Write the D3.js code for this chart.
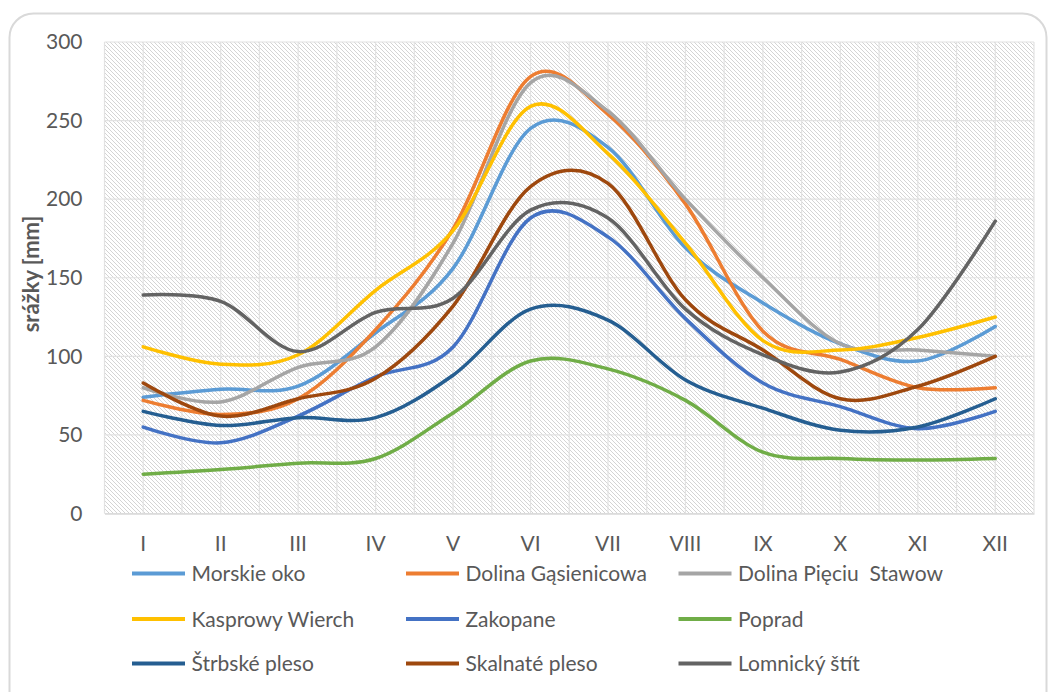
<!DOCTYPE html>
<html>
<head>
<meta charset="utf-8">
<script src="https://cdn.jsdelivr.net/npm/d3@7"></script>
<style>
  html, body { margin: 0; padding: 0; background: #ffffff; }
  svg { display: block; }
  text { font-family: Lato, "Open Sans", sans-serif; fill: #595959; }
</style>
</head>
<body>
<svg id="chart" width="1048" height="692"></svg>
<script>
// Months (Roman numerals) and monthly precipitation totals in mm
const months = ["I", "II", "III", "IV", "V", "VI", "VII", "VIII", "IX", "X", "XI", "XII"];
const yTicks = [0, 50, 100, 150, 200, 250, 300];

const morskieOko        = [74, 79, 81, 115, 156, 245, 233, 169, 134, 108, 97, 119];
const dolinaGasienicowa = [72, 63, 73, 117, 181, 278, 254, 197, 116, 98, 80, 80];
const dolinaPieciuStawow= [80, 71, 93, 106, 172, 274, 256, 200, 150, 108, 104, 100];
const kasprowyWierch    = [106, 95, 101, 142, 180, 259, 229, 172, 110, 104, 112, 125];
const zakopane          = [55, 45, 62, 87, 106, 188, 176, 124, 83, 68, 54, 65];
const poprad            = [25, 28, 32, 35, 64, 97, 92, 72, 39, 35, 34, 35];
const strbskePleso      = [65, 56, 61, 61, 88, 130, 123, 85, 67, 53, 55, 73];
const skalnatePleso     = [83, 62, 73, 86, 132, 208, 210, 136, 104, 73, 81, 100];
const lomnickyStit      = [139, 135, 103, 128, 137, 193, 188, 130, 101, 90, 117, 186];

const seriesNames = ["Morskie oko", "Dolina Gąsienicowa", "Dolina Pięciu  Stawow",
  "Kasprowy Wierch", "Zakopane", "Poprad", "Štrbské pleso", "Skalnaté pleso", "Lomnický štít"];
const seriesValues = [morskieOko, dolinaGasienicowa, dolinaPieciuStawow, kasprowyWierch,
  zakopane, poprad, strbskePleso, skalnatePleso, lomnickyStit];
const seriesColors = ["#5B9BD5", "#ED7D31", "#A5A5A5", "#FFC000", "#4472C4",
  "#70AD47", "#255E91", "#9E480E", "#636363"];

const series = seriesNames.map((name, i) => ({ name, values: seriesValues[i], color: seriesColors[i] }));

const svg = d3.select("#chart");

// Outer rounded frame
svg.append("rect")
  .attr("x", 9.5).attr("y", 13.5)
  .attr("width", 1037).attr("height", 740)
  .attr("rx", 24).attr("ry", 24)
  .attr("fill", "#ffffff")
  .attr("stroke", "#d9d9d9")
  .attr("stroke-width", 2);

// Diagonal hatch fill for the plot area
const defs = svg.append("defs");
const pat = defs.append("pattern")
  .attr("id", "hatch")
  .attr("patternUnits", "userSpaceOnUse")
  .attr("width", 4).attr("height", 4);
pat.append("rect").attr("width", 4).attr("height", 4).attr("fill", "#ffffff");
pat.append("path")
  .attr("d", "M-1,-1 L5,5 M3,-1 L5,1 M-1,3 L1,5")
  .attr("stroke", "#d4d4d4")
  .attr("stroke-width", 1);

const plot = { left: 104.5, right: 1034, top: 42, bottom: 513.5 };

const x = d3.scaleBand().domain(months).range([plot.left, plot.right]).paddingInner(0).paddingOuter(0);
const y = d3.scaleLinear().domain([0, 300]).range([plot.bottom, plot.top]);
const cx = m => x(m) + x.bandwidth() / 2;

svg.append("rect")
  .attr("x", plot.left).attr("y", plot.top)
  .attr("width", plot.right - plot.left).attr("height", plot.bottom - plot.top)
  .attr("fill", "url(#hatch)");

// Grid: vertical lines at band edges and centres, horizontal at each tick
const grid = svg.append("g").attr("stroke", "#e2e2e2").attr("stroke-width", 1.2);
const vx = [];
months.forEach(m => { vx.push(x(m)); vx.push(cx(m)); });
vx.push(plot.right);
grid.selectAll("line.v").data(vx).join("line")
  .attr("class", "v")
  .attr("x1", d => d).attr("x2", d => d)
  .attr("y1", plot.top).attr("y2", plot.bottom);
grid.selectAll("line.h").data(yTicks).join("line")
  .attr("class", "h")
  .attr("x1", plot.left).attr("x2", plot.right)
  .attr("y1", d => y(d)).attr("y2", d => y(d));

// Axes
const yAxis = svg.append("g")
  .attr("transform", `translate(${plot.left},0)`)
  .call(d3.axisLeft(y).tickValues(yTicks).tickSize(0).tickPadding(22));
yAxis.select(".domain").remove();
yAxis.selectAll("text").style("font-size", "21px").attr("fill", "#595959");

const xAxis = svg.append("g")
  .attr("transform", `translate(0,${plot.bottom})`)
  .call(d3.axisBottom(x).tickSize(0).tickPadding(23));
xAxis.select(".domain").attr("stroke", "#d9d9d9").attr("stroke-width", 1.5);
xAxis.selectAll("text").style("font-size", "21px").attr("fill", "#595959");

// Y axis title
svg.append("text")
  .attr("transform", "translate(39,274) rotate(-90)")
  .attr("text-anchor", "middle")
  .style("font-size", "22px")
  .style("font-weight", "bold")
  .text("srážky [mm]");

// Smoothed lines
const line = d3.line()
  .x((d, i) => cx(months[i]))
  .y(d => y(d))
  .curve(d3.curveCardinal.tension(0));

svg.append("g").selectAll("path").data(series).join("path")
  .attr("d", d => line(d.values))
  .attr("fill", "none")
  .attr("stroke", d => d.color)
  .attr("stroke-width", 3.5)
  .attr("stroke-linecap", "round")
  .attr("stroke-linejoin", "round");

// Legend: three columns, three rows
const legendCols = [132, 406, 678.5];
const legendRows = [573.5, 619, 663.5];
const legend = svg.append("g");
series.forEach((s, i) => {
  const lx = legendCols[i % 3];
  const ly = legendRows[Math.floor(i / 3)];
  legend.append("line")
    .attr("x1", lx).attr("x2", lx + 53)
    .attr("y1", ly).attr("y2", ly)
    .attr("stroke", s.color)
    .attr("stroke-width", 4);
  legend.append("text")
    .attr("x", lx + 59.5).attr("y", ly)
    .attr("dy", "0.36em")
    .style("font-size", "21px")
    .style("white-space", "pre")
    .text(s.name);
});
</script>
</body>
</html>
